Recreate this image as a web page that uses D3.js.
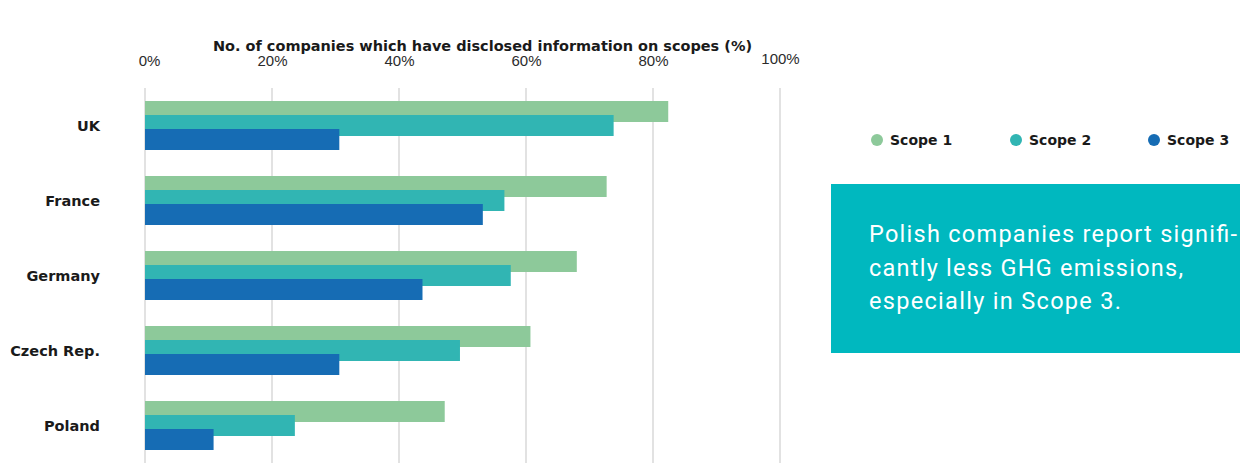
<!DOCTYPE html>
<html>
<head>
<meta charset="utf-8">
<script src="https://cdn.jsdelivr.net/npm/d3@7"></script>
<style>
  html, body { margin: 0; padding: 0; background: #ffffff; }
  svg { display: block; }
</style>
</head>
<body>
<svg id="chart" width="1240" height="466"></svg>
<script>
// Share of companies disclosing each emission scope, by country (%)
const countries = ["UK", "France", "Germany", "Czech Rep.", "Poland"];
const scopes = ["Scope 1", "Scope 2", "Scope 3"];
const scope1 = [82.4, 72.7, 68.0, 60.7, 47.2];
const scope2 = [73.8, 56.6, 57.6, 49.6, 23.6];
const scope3 = [30.6, 53.2, 43.7, 30.6, 10.8];
const tickValues = [0, 20, 40, 60, 80, 100];
const colors = ["#8dc99a", "#31b5b3", "#166cb4"];

const title = "No. of companies which have disclosed information on scopes (%)";
const note = ["Polish companies report signifi-", "cantly less GHG emissions,", "especially in Scope 3."];
const noteWidths = [368, 314, 252];

const series = [scope1, scope2, scope3];

const svg = d3.select("#chart");

const x = d3.scaleLinear().domain([0, 100]).range([145, 780]);
const y = d3.scaleBand().domain(countries).range([88, 463]);

const barH = 21;      // thickness of a single bar
const barStep = 14;   // vertical offset between overlapping bars in a group
const groupH = barStep * (scopes.length - 1) + barH;

const boldFont = "DejaVu Sans, Verdana, sans-serif";
const plainFont = "Liberation Sans, Arial, sans-serif";

// title
svg.append("text")
  .attr("x", 213).attr("y", 50.5)
  .attr("font-family", boldFont)
  .attr("font-size", 13.5).attr("font-weight", "bold")
  .attr("textLength", 539).attr("lengthAdjust", "spacingAndGlyphs")
  .attr("fill", "#1a1a1a")
  .text(title);

// vertical gridlines
svg.append("g")
  .selectAll("line")
  .data(tickValues)
  .join("line")
  .attr("x1", d => x(d)).attr("x2", d => x(d))
  .attr("y1", 88).attr("y2", 463)
  .attr("stroke", "#cfcfcf").attr("stroke-width", 1.2);

// top axis labels
const axis = d3.axisTop(x).tickValues(tickValues).tickFormat(d => d + "%").tickSize(0).tickPadding(0);
const axisG = svg.append("g").attr("transform", "translate(0,66)").call(axis);
axisG.select(".domain").remove();
axisG.selectAll("text")
  .attr("font-family", plainFont)
  .attr("font-size", 15).attr("fill", "#2b2b2b")
  .attr("dy", (d, i) => i === tickValues.length - 1 ? -2 : 0)
  .attr("dx", (d, i) => i === 0 ? 4 : 0);

// bars: each scope drawn on top of the previous one
series.forEach((vals, si) => {
  svg.append("g")
    .selectAll("rect")
    .data(countries)
    .join("rect")
    .attr("x", x(0))
    .attr("y", c => y(c) + (y.bandwidth() - groupH) / 2 + si * barStep)
    .attr("width", (c, i) => x(vals[i]) - x(0))
    .attr("height", barH)
    .attr("fill", colors[si]);
});

// country labels
svg.append("g")
  .selectAll("text")
  .data(countries)
  .join("text")
  .attr("x", 100)
  .attr("y", c => y(c) + y.bandwidth() / 2)
  .attr("dy", "0.35em")
  .attr("text-anchor", "end")
  .attr("font-family", boldFont)
  .attr("font-size", 14.5).attr("font-weight", "bold")
  .attr("fill", "#1a1a1a")
  .text(c => c);

// legend
const legendX = [877, 1016, 1154];
const legend = svg.append("g")
  .selectAll("g")
  .data(scopes)
  .join("g")
  .attr("transform", (d, i) => `translate(${legendX[i]},140)`);
legend.append("circle").attr("r", 6).attr("fill", (d, i) => colors[i]);
legend.append("text")
  .attr("x", 13).attr("dy", "0.36em")
  .attr("font-family", boldFont)
  .attr("font-size", 14).attr("font-weight", "bold")
  .attr("fill", "#1a1a1a")
  .text(d => d);

// callout box
svg.append("rect")
  .attr("x", 831).attr("y", 184)
  .attr("width", 409).attr("height", 169)
  .attr("fill", "#00b8bf");
svg.append("g")
  .selectAll("text")
  .data(note)
  .join("text")
  .attr("x", 869)
  .attr("y", (d, i) => 242 + i * 33.5)
  .attr("font-family", "Roboto, Arial, sans-serif")
  .attr("font-size", 23.5)
  .attr("textLength", (d, i) => noteWidths[i])
  .attr("lengthAdjust", "spacing")
  .attr("fill", "#ffffff")
  .text(d => d);
</script>
</body>
</html>
